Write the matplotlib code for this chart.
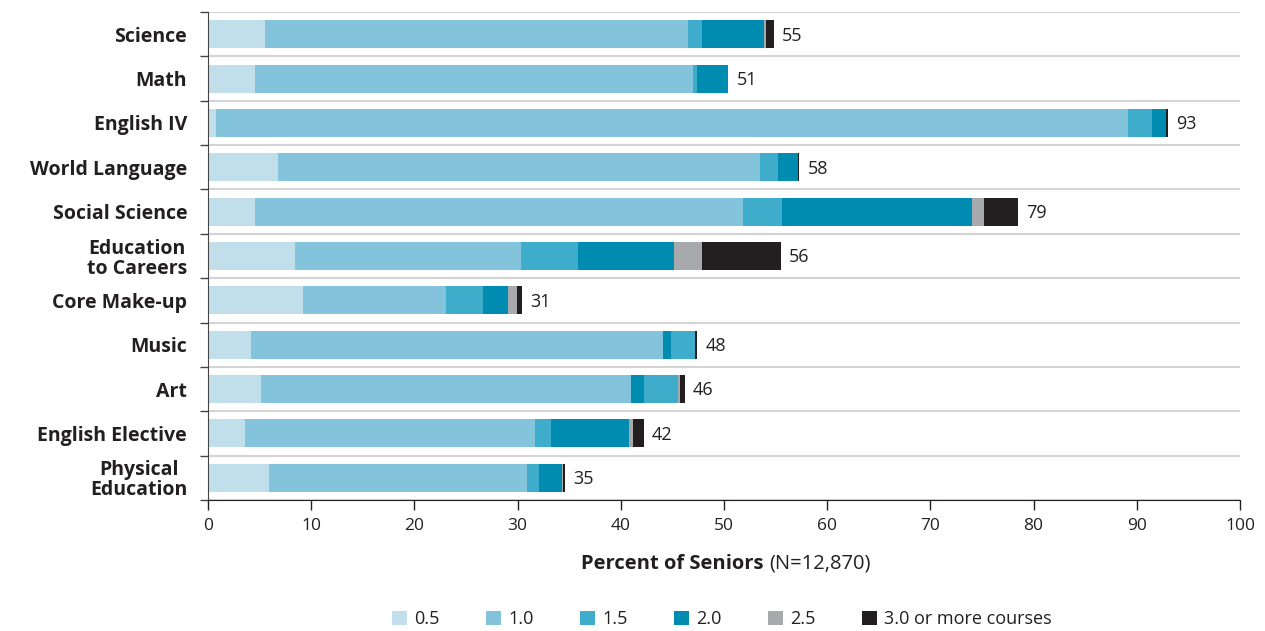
import numpy as np
import matplotlib
matplotlib.use("Agg")
import matplotlib.pyplot as plt
from matplotlib.patches import Patch

plt.rcParams['font.family'] = ['Open Sans', 'DejaVu Sans']

subjects = ["Science", "Math", "English IV", "World Language", "Social Science",
            "Education\nto Careers", "Core Make-up", "Music", "Art",
            "English Elective", "Physical\nEducation"]
series = ["0.5", "1.0", "1.5", "2.0", "2.5", "3.0 or more courses"]
colors = ["#c0dfeb", "#83c3dc", "#40accb", "#008bb0", "#a7a9ac", "#231f20"]

v05 = [5.5, 4.6, 0.8, 6.8, 4.6, 8.4, 9.2, 4.2, 5.1, 3.6, 5.9]
v10 = [41.0, 42.4, 88.3, 46.7, 47.2, 21.9, 13.9, 39.9, 35.9, 28.1, 25.0]
v15 = [1.4, 0.4, 2.4, 1.7, 3.8, 5.6, 3.5, 2.3, 3.3, 1.5, 1.2]
v20 = [6.0, 3.0, 1.3, 2.0, 18.4, 9.3, 2.5, 0.8, 1.2, 7.6, 2.2]
v25 = [0.2, 0.0, 0.0, 0.0, 1.2, 2.7, 0.8, 0.0, 0.2, 0.4, 0.1]
v30 = [0.7, 0.0, 0.2, 0.1, 3.3, 7.6, 0.5, 0.2, 0.5, 1.0, 0.2]
totals = [55, 51, 93, 58, 79, 56, 31, 48, 46, 42, 35]
# in these rows the 2.0 segment is drawn before the 1.5 segment
swapped = ["Music", "Art"]

fig = plt.figure(figsize=(12.65, 6.31), dpi=100)
ax = fig.add_axes([208/1265, 1 - 500/631, 1032/1265, 488/631])

vals = np.array([v05, v10, v15, v20, v25, v30])
y = np.arange(len(subjects))
for i, name in enumerate(subjects):
    order = [0, 1, 3, 2, 4, 5] if name in swapped else [0, 1, 2, 3, 4, 5]
    left = 0
    for k in order:
        if vals[k, i] > 0:
            ax.barh(y[i], vals[k, i], left=left, height=0.63, color=colors[k], linewidth=0)
        left += vals[k, i]
    ax.text(left + 0.8, y[i] + 0.03, str(totals[i]), va='center', ha='left',
            fontsize=13, color='#231f20')

ax.set_ylim(len(subjects) - 0.5, -0.5)
ax.set_xlim(0, 100)
ax.set_xticks(np.arange(0, 101, 10))
ax.tick_params(axis='x', direction='out', length=7, width=1, labelsize=12.5,
               colors='#231f20', pad=6)
ax.set_yticks(y)
ax.set_yticklabels(subjects, fontsize=14, fontweight='bold', color='#231f20',
                   linespacing=1.0)
for lab in ax.get_yticklabels():
    lab.set_multialignment('center')
ax.tick_params(axis='y', which='major', length=0, pad=15)
ax.set_yticks(np.arange(-0.5, len(subjects), 1), minor=True)
ax.tick_params(axis='y', which='minor', direction='out', length=6, width=1,
               color='#444444')
for b in np.arange(-0.5, len(subjects), 1):
    ax.axhline(b, color='#d4d4d4', linewidth=1.5, zorder=0)

for s in ['top', 'right']:
    ax.spines[s].set_visible(False)
ax.spines['left'].set_color('#444444')
ax.spines['bottom'].set_color('#231f20')

fig.text(764/1265, 1 - 564/631, "Percent of Seniors", ha='right', va='center',
         fontsize=14.5, fontweight='bold', color='#231f20')
fig.text(769/1265, 1 - 564/631, "(N=12,870)", ha='left', va='center',
         fontsize=14.5, color='#231f20')

handles = [Patch(facecolor=c, edgecolor='none') for c in colors]
fig.legend(handles, series, loc='center', bbox_to_anchor=(722/1265, 1 - 619/631),
           ncol=6, frameon=False, fontsize=13, handlelength=0.8, handleheight=0.8,
           handletextpad=0.4, columnspacing=2.6, labelcolor='#231f20')

fig.savefig("out.png", dpi=100)
